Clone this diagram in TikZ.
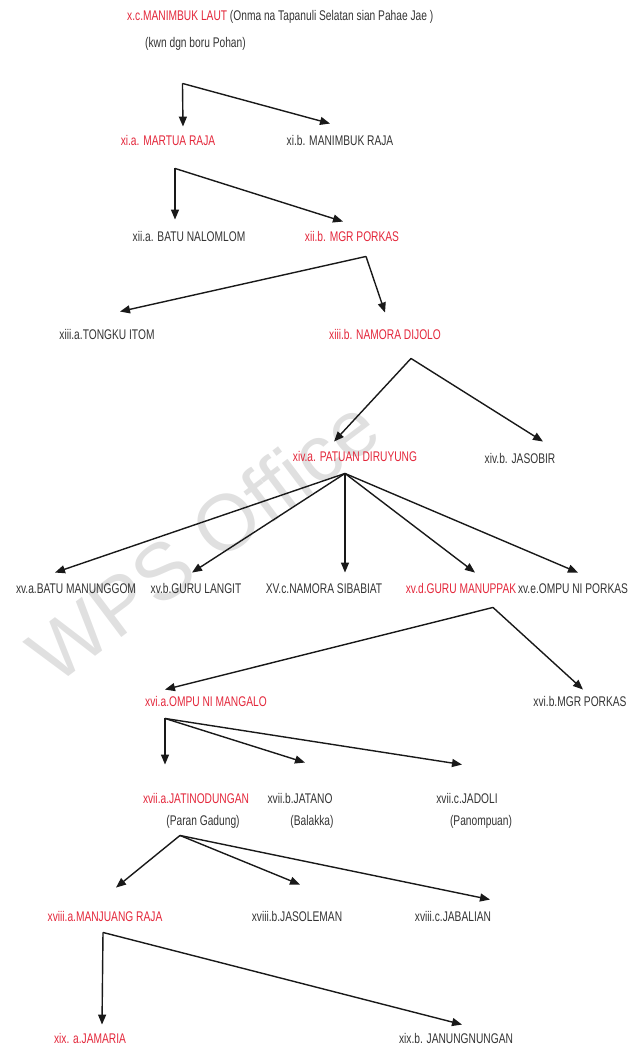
\documentclass[tikz,border=0pt]{standalone}
\usepackage{fontspec}
\setmainfont{Liberation Sans}[FakeStretch=0.73]
\newfontfamily\wmfont{Liberation Sans}
\usetikzlibrary{arrows.meta,calc}
\definecolor{rd}{HTML}{E3263A}
\definecolor{tx}{HTML}{333333}
\begin{document}
\begin{tikzpicture}[x=1pt,y=-1pt,
  lbl/.style={inner sep=0pt, font=\fontsize{14}{16}\selectfont, text=tx, text height=10pt, text depth=2.5pt},
  rlbl/.style={lbl, text=rd},
  arr/.style={draw=black!90, line width=1.4pt, -{Triangle[length=10pt,width=8pt]}}]
\useasboundingbox (0,0) rectangle (628,1050);
% watermark
\node[rotate=37, text=gray!24, font=\wmfont\fontsize{80}{82}\selectfont] (wm) at (203,540) {WPS Office};
% nodes
\node[lbl, anchor=west] (n0) at (127,17) {\textcolor{rd}{x.c.MANIMBUK LAUT} (Onma na Tapanuli Selatan sian Pahae Jae )};
\node[lbl, anchor=west] (n0k) at (145,44) {(kwn dgn boru Pohan)};
\node[rlbl] (c1a) at (168,142) {xi.a. MARTUA RAJA};
\node[lbl] (c1b) at (340,142) {xi.b. MANIMBUK RAJA};
\node[lbl] (c2a) at (189,238) {xii.a. BATU NALOMLOM};
\node[rlbl] (c2b) at (352,238) {xii.b. MGR PORKAS};
\node[lbl] (c3a) at (107,336) {xiii.a.TONGKU ITOM};
\node[rlbl] (c3b) at (385,336) {xiii.b. NAMORA DIJOLO};
\node[rlbl] (c4a) at (355,458) {xiv.a. PATUAN DIRUYUNG};
\node[lbl] (c4b) at (520,460) {xiv.b. JASOBIR};
\node[lbl] (c5a) at (76,590) {xv.a.BATU MANUNGGOM};
\node[lbl] (c5b) at (196,590) {xv.b.GURU LANGIT};
\node[lbl] (c5c) at (324,590) {XV.c.NAMORA SIBABIAT};
\node[rlbl] (c5d) at (461,590) {xv.d.GURU MANUPPAK};
\node[lbl] (c5e) at (573,590) {xv.e.OMPU NI PORKAS};
\node[rlbl] (c6a) at (206,703) {xvi.a.OMPU NI MANGALO};
\node[lbl] (c6b) at (580,703) {xvi.b.MGR PORKAS};
\node[rlbl] (c7a) at (196,800) {xvii.a.JATINODUNGAN};
\node[lbl] (c7a2) at (203,822) {(Paran Gadung)};
\node[lbl] (c7b) at (300,800) {xvii.b.JATANO};
\node[lbl] (c7b2) at (312,822) {(Balakka)};
\node[lbl] (c7c) at (467,800) {xvii.c.JADOLI};
\node[lbl] (c7c2) at (481,822) {(Panompuan)};
\node[rlbl] (c8a) at (105,918) {xviii.a.MANJUANG RAJA};
\node[lbl] (c8b) at (297,918) {xviii.b.JASOLEMAN};
\node[lbl] (c8c) at (453,918) {xviii.c.JABALIAN};
\node[rlbl] (c9a) at (90,1040) {xix. a.JAMARIA};
\node[lbl] (c9b) at (456,1040) {xix.b. JANUNGNUNGAN};
% branch points
\coordinate (b0) at ($(n0k.south)+(-13,33)$);
\coordinate (b1) at ($(c1a.south)+(7,20)$);
\coordinate (b2) at ($(c2b.south)+(14,12)$);
\coordinate (b3) at ($(c3b.south)+(26,16)$);
\coordinate (b4) at ($(c4a.south)+(-10,9)$);
\coordinate (b5) at ($(c5d.south)+(32,11)$);
\coordinate (b6) at ($(c6a.south)+(-41,9)$);
\coordinate (b7) at ($(c7a2.south)+(-23,7)$);
\coordinate (b8) at ($(c8a.south)+(-2,8)$);
% connectors
\draw[arr] (b0) -- ([shift={(15,-9)}]c1a.north);
\draw[arr] (b0) -- ([shift={(-10,-12)}]c1b.north);
\draw[arr] (b1) -- ([shift={(-14,-12)}]c2a.north);
\draw[arr] (b1) -- ([shift={(-9,-10)}]c2b.north);
\draw[arr] (b2) -- ([shift={(13,-18)}]c3a.north);
\draw[arr] (b2) -- ([shift={(0,-17)}]c3b.north);
\draw[arr] (b3) -- ([shift={(-21,-10)}]c4a.north);
\draw[arr] (b3) -- ([shift={(23,-12)}]c4b.north);
\draw[arr] (b4) -- ([shift={(-21,-11)}]c5a.north);
\draw[arr] (b4) -- ([shift={(-4,-11)}]c5b.north);
\draw[arr] (b4) -- ([shift={(21,-11)}]c5c.north);
\draw[arr] (b4) -- ([shift={(14,-11)}]c5d.north);
\draw[arr] (b4) -- ([shift={(5,-11)}]c5e.north);
\draw[arr] (b5) -- ([shift={(-41,-7)}]c6a.north);
\draw[arr] (b5) -- ([shift={(3,-7)}]c6b.north);
\draw[arr] (b6) -- ([shift={(-31,-29)}]c7a.north);
\draw[arr] (b6) -- ([shift={(5,-31)}]c7b.north);
\draw[arr] (b6) -- ([shift={(-5,-29)}]c7c.north);
\draw[arr] (b7) -- ([shift={(11,-24)}]c8a.north);
\draw[arr] (b7) -- ([shift={(3,-27)}]c8b.north);
\draw[arr] (b7) -- ([shift={(37,-12)}]c8c.north);
\draw[arr] (b8) -- ([shift={(12,-9)}]c9a.north);
\draw[arr] (b8) -- ([shift={(6,-9)}]c9b.north);
\end{tikzpicture}
\end{document}
